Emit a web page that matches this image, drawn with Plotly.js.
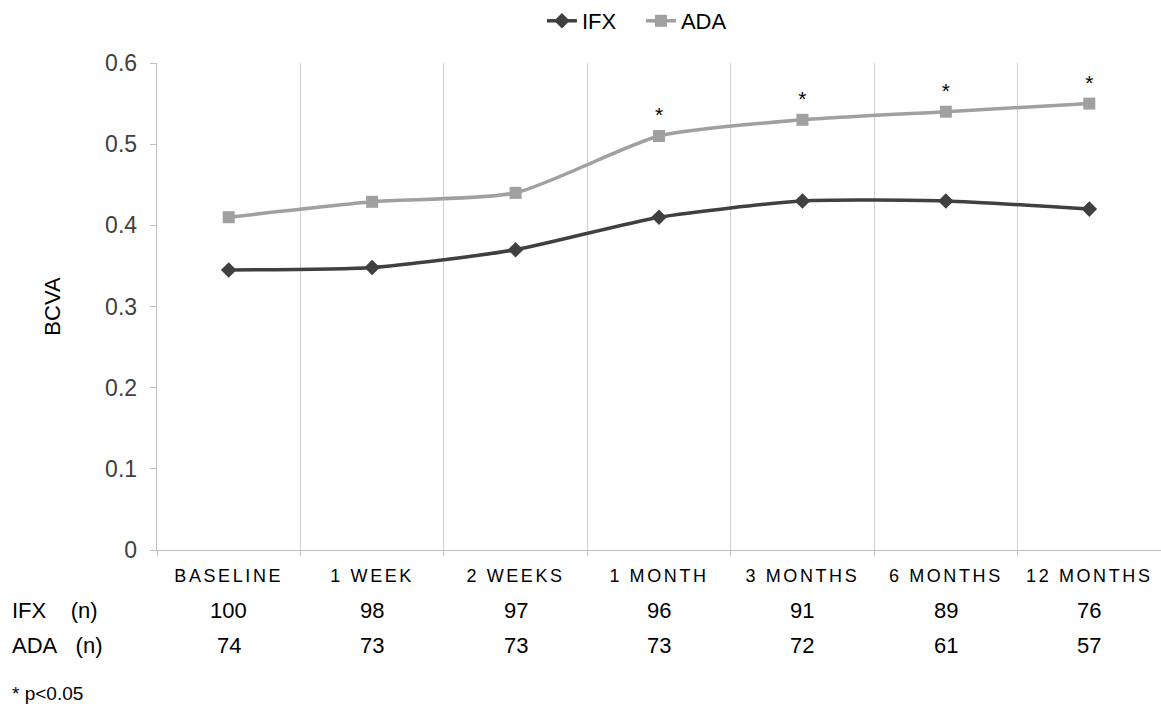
<!DOCTYPE html>
<html>
<head>
<meta charset="utf-8">
<script src="https://cdn.plot.ly/plotly-3.0.1.min.js"></script>
<style>
html,body{margin:0;padding:0;background:#fff;}
#chart .xtick text{letter-spacing:2.6px;}
</style>
</head>
<body>
<div id="chart" style="width:1161px;height:709px;"></div>
<script>
const categories = ["BASELINE","1 WEEK","2 WEEKS","1 MONTH","3 MONTHS","6 MONTHS","12 MONTHS"];
const ifxValues = [0.345, 0.348, 0.37, 0.41, 0.43, 0.43, 0.42];
const adaValues = [0.41, 0.429, 0.44, 0.51, 0.53, 0.54, 0.55];
const adaSignificance = ["", "", "", "*", "*", "*", "*"];
const ifxN = [100, 98, 97, 96, 91, 89, 76];
const adaN = [74, 73, 73, 73, 72, 61, 57];
const rowLabels = ["IFX&nbsp;&nbsp;&nbsp;&nbsp;(n)", "ADA&nbsp;&nbsp;&nbsp;(n)"];
const footnote = "* p&lt;0.05";

const FONT = "Liberation Sans, Arial, Helvetica, sans-serif";

const traces = [
  {
    x: categories, y: ifxValues, name: "IFX", type: "scatter",
    mode: "lines+markers",
    line: {color: "#404040", width: 3.5, shape: "spline", smoothing: 0.6},
    marker: {symbol: "diamond", size: 12, color: "#404040"}
  },
  {
    x: categories, y: adaValues, name: "ADA", type: "scatter",
    mode: "lines+markers+text",
    text: adaSignificance, textposition: "top center",
    textfont: {family: FONT, size: 21, color: "#000"},
    line: {color: "#a0a0a0", width: 3.5, shape: "spline", smoothing: 0.6},
    marker: {symbol: "square", size: 12, color: "#a0a0a0"}
  }
];

const plotTop = 63, plotBottom = 550, plotLeft = 157, plotWidth = 1004;
const toPaperY = py => (plotBottom - py) / (plotBottom - plotTop);
const toPaperX = px => (px - plotLeft) / plotWidth;

const annotations = [];
categories.forEach((c, i) => {
  annotations.push({x: c, xref: "x", y: toPaperY(610), yref: "paper", yanchor: "middle",
    text: String(ifxN[i]), showarrow: false, font: {family: FONT, size: 22, color: "#000"}});
  annotations.push({x: c, xref: "x", y: toPaperY(645), yref: "paper", yanchor: "middle",
    text: String(adaN[i]), showarrow: false, font: {family: FONT, size: 22, color: "#000"}});
});
annotations.push({x: toPaperX(10), xref: "paper", y: toPaperY(610), yref: "paper", yanchor: "middle",
  text: rowLabels[0], showarrow: false, xanchor: "left", font: {family: FONT, size: 22, color: "#000"}});
annotations.push({x: toPaperX(10), xref: "paper", y: toPaperY(645), yref: "paper", yanchor: "middle",
  text: rowLabels[1], showarrow: false, xanchor: "left", font: {family: FONT, size: 22, color: "#000"}});
annotations.push({x: toPaperX(10), xref: "paper", y: toPaperY(693), yref: "paper", yanchor: "middle",
  text: footnote, showarrow: false, xanchor: "left", font: {family: FONT, size: 19, color: "#000"}});

const layout = {
  width: 1161, height: 709,
  margin: {l: 157, r: 0, t: 63, b: 159},
  paper_bgcolor: "#fff", plot_bgcolor: "#fff",
  font: {family: FONT, color: "#000"},
  showlegend: true,
  legend: {orientation: "h", x: 0.482, xanchor: "center", y: 1.0, yref: "container", yanchor: "top",
    font: {family: FONT, size: 22, color: "#000"}, itemwidth: 30, tracegroupgap: 0,
    entrywidth: 54, entrywidthmode: "pixels"},
  xaxis: {
    type: "category", tickson: "boundaries", range: [-0.5, 6.5],
    showgrid: true, gridcolor: "#d0d0d0", gridwidth: 1.2,
    showline: true, linecolor: "#bfbfbf", linewidth: 1.3,
    ticks: "outside", ticklen: 5, tickcolor: "#bfbfbf",
    ticklabelstandoff: 9,
    tickfont: {family: FONT, size: 18, color: "#000"},
    zeroline: false, fixedrange: true
  },
  yaxis: {
    range: [0, 0.6], dtick: 0.1, tickformat: ".1~f",
    showgrid: false, zeroline: false,
    showline: true, linecolor: "#bfbfbf", linewidth: 1.3,
    ticks: "outside", ticklen: 6, tickcolor: "#bfbfbf",
    ticklabelstandoff: 8,
    tickfont: {family: FONT, size: 23, color: "#404040"},
    title: {text: "BCVA", font: {family: FONT, size: 22, color: "#000"}, standoff: 38}
  },
  annotations: annotations
};

Plotly.newPlot("chart", traces, layout, {displayModeBar: false, staticPlot: true});
</script>
</body>
</html>
